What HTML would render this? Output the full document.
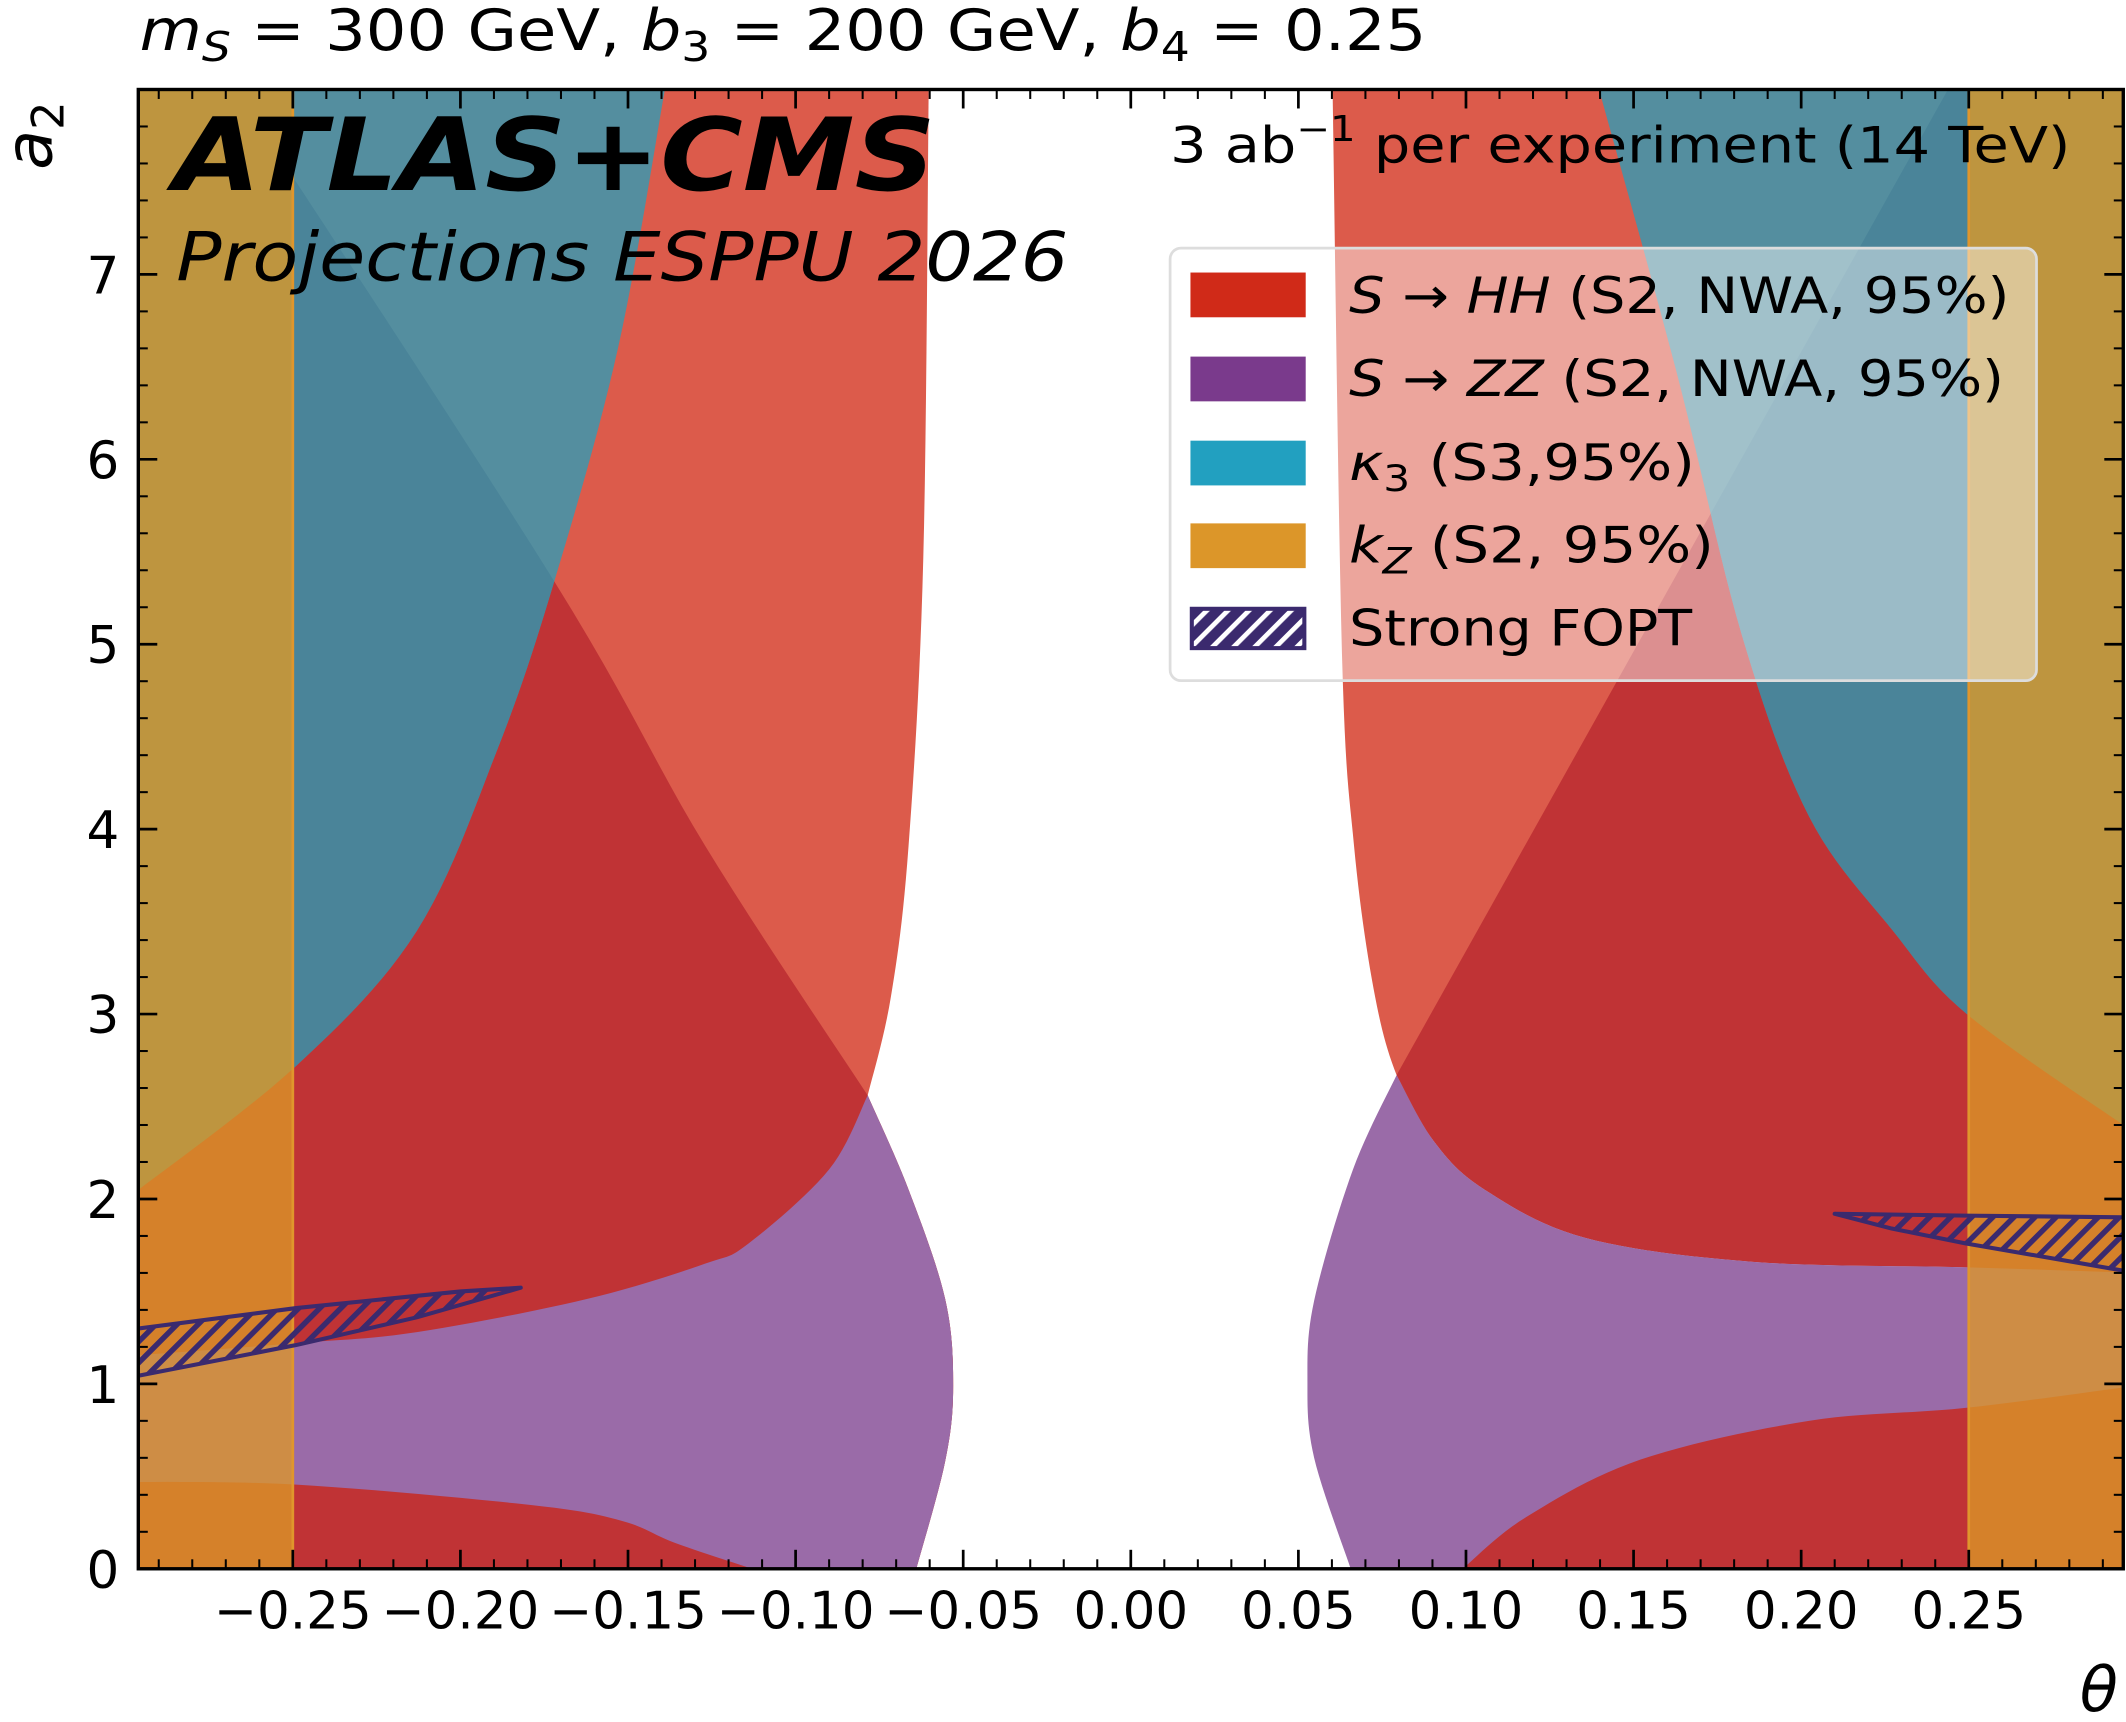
<!DOCTYPE html>
<html><head><meta charset="utf-8">
<style>
html,body{margin:0;padding:0;background:#fff;}
svg{display:block;}
text{font-family:"DejaVu Sans","Liberation Sans",sans-serif;fill:#000;}
</style></head>
<body>
<svg id="chart" width="2126" height="1722" viewBox="0 0 1568 1270" preserveAspectRatio="none" xmlns="http://www.w3.org/2000/svg">
<defs>
<clipPath id="plotclip"><rect x="102" y="66" width="1464" height="1091"/></clipPath>
<pattern id="hatch" patternUnits="userSpaceOnUse" width="11" height="11" patternTransform="rotate(45)">
<rect x="0" y="0" width="4" height="11" fill="#3b2a6e"/>
</pattern>
<pattern id="hatchLegend" patternUnits="userSpaceOnUse" width="11" height="11" patternTransform="rotate(45)">
<rect x="0" y="0" width="11" height="11" fill="#3b2a6e"/>
<rect x="0" y="0" width="3.5" height="11" fill="#ffffff"/>
</pattern>
</defs>
<g id="plot" clip-path="url(#plotclip)"></g>
<g id="axes"></g>

<text x="103" y="37" font-size="42" textLength="949" lengthAdjust="spacingAndGlyphs"><tspan font-style="italic">m</tspan><tspan font-style="italic" font-size="30" dy="8">S</tspan><tspan dy="-8"> = 300 GeV, </tspan><tspan font-style="italic">b</tspan><tspan font-size="30" dy="8">3</tspan><tspan dy="-8"> = 200 GeV, </tspan><tspan font-style="italic">b</tspan><tspan font-size="30" dy="8">4</tspan><tspan dy="-8"> = 0.25</tspan></text>

<text x="128" y="140" font-size="74" font-weight="bold" font-style="italic" textLength="562" lengthAdjust="spacingAndGlyphs">ATLAS+CMS</text>
<text x="130" y="207" font-size="50" font-style="italic" textLength="658" lengthAdjust="spacingAndGlyphs">Projections ESPPU 2026</text>
<text x="863" y="120" font-size="37" textLength="664" lengthAdjust="spacingAndGlyphs">3 ab<tspan font-size="26" dy="-16">−1</tspan><tspan dy="16">   per experiment (14 TeV)</tspan></text>

<g>
<rect x="863" y="183" width="639" height="319" rx="8" fill="#ffffff" fill-opacity="0.45" stroke="#dddddd" stroke-width="2"/>
<g>
<rect x="878" y="201" width="85" height="33" fill="#d02a18"/>
<text x="995" y="231" font-size="37" textLength="487" lengthAdjust="spacingAndGlyphs"><tspan font-style="italic">S</tspan> → <tspan font-style="italic">HH</tspan>   (S2, NWA, 95%)</text></g>
<g>
<rect x="878" y="263" width="85" height="33" fill="#7a3a8c"/>
<text x="995" y="292" font-size="37" textLength="483" lengthAdjust="spacingAndGlyphs"><tspan font-style="italic">S</tspan> → <tspan font-style="italic">ZZ</tspan>   (S2, NWA, 95%)</text></g>
<g>
<rect x="878" y="325" width="85" height="33" fill="#22a0c0"/>
<text x="995" y="354" font-size="37" textLength="255" lengthAdjust="spacingAndGlyphs"><tspan font-style="italic">κ</tspan><tspan font-size="27" dy="8">3</tspan><tspan dy="-8">   (S3,95%)</tspan></text></g>
<g>
<rect x="878" y="386" width="85" height="33" fill="#dc9629"/>
<text x="995" y="415" font-size="37" textLength="269" lengthAdjust="spacingAndGlyphs"><tspan font-style="italic">k</tspan><tspan font-style="italic" font-size="27" dy="8">Z</tspan><tspan dy="-8">   (S2, 95%)</tspan></text></g>
<g>
<rect x="879" y="449" width="83" height="29" fill="url(#hatchLegend)" stroke="#3b2a6e" stroke-width="3"/>
<text x="995" y="476" font-size="37" textLength="253" lengthAdjust="spacingAndGlyphs">Strong FOPT</text></g>
</g>

<text x="1548" y="1262" font-size="46" font-style="italic" text-anchor="middle">θ</text>
<text transform="translate(38,100) rotate(-90)" font-size="48" text-anchor="middle"><tspan font-style="italic">a</tspan><tspan font-size="33" dy="9">2</tspan></text>
</svg>

<script>
// ---- data (theta, a2) boundary curves ----
const leftGap = [[-0.0603,8],[-0.0619,5.47],[-0.0663,3.91],[-0.0716,3.09],[-0.0785,2.56]];
const leftZZRight = [[-0.0785,2.56],[-0.0663,2.05],[-0.0554,1.46],[-0.053,0.99],[-0.0554,0.58],[-0.064,0]];
const leftDiag = [[-0.267,8],[-0.172,5.34],[-0.127,3.91],[-0.0785,2.56]];
const leftKappa = [[-0.139,8],[-0.153,6.6],[-0.172,5.34],[-0.189,4.43],[-0.213,3.45],[-0.249,2.72],[-0.296,2.05],[-0.3,2.0]];
const leftZZTop = [[-0.0785,2.56],[-0.090,2.16],[-0.114,1.76],[-0.127,1.65],[-0.162,1.46],[-0.213,1.28],[-0.249,1.22],[-0.3,1.15]];
const leftHHLow = [[-0.3,0.47],[-0.249,0.455],[-0.179,0.345],[-0.152,0.26],[-0.136,0.14],[-0.113,0]];
const leftFOPT = [[-0.3,1.29],[-0.249,1.41],[-0.2,1.5],[-0.182,1.52],[-0.213,1.36],[-0.249,1.21],[-0.3,1.03]];

const rightGap = [[0.0602,8],[0.063,4.95],[0.0666,3.91],[0.0724,3.14],[0.0793,2.67],[0.0905,2.31],[0.1056,2.05],[0.1355,1.79],[0.1857,1.66],[0.25,1.63],[0.3,1.6]];
const rightDiag = [[0.2438,8],[0.0793,2.67]];
const rightKappa = [[0.1397,8],[0.1627,6.48],[0.1823,5.05],[0.2023,4.07],[0.2274,3.45],[0.2494,3.0],[0.2953,2.41],[0.3,2.37]];
const rightZZLeft = [[0.0793,2.67],[0.0663,2.16],[0.0547,1.45],[0.0527,1.01],[0.0547,0.6],[0.0656,0]];
const rightHHLow = [[0.099,0],[0.118,0.28],[0.152,0.59],[0.2023,0.80],[0.249,0.87],[0.3,0.99]];
const rightFOPT = [[0.210,1.92],[0.249,1.91],[0.3,1.90],[0.3,1.60],[0.249,1.76],[0.227,1.84]];

const kzEdge = [-0.25, 0.25];
const xTicks = [-0.25,-0.20,-0.15,-0.10,-0.05,0.00,0.05,0.10,0.15,0.20,0.25];
const xTickLabels = ["−0.25","−0.20","−0.15","−0.10","−0.05","0.00","0.05","0.10","0.15","0.20","0.25"];
const yTicks = [0,1,2,3,4,5,6,7];
const yTickLabels = ["0","1","2","3","4","5","6","7"];

// ---- scales ----
const X0=102, X1=1566, Y0=66, Y1=1157;
const TMIN=-0.2961, TMAX=0.2961, AMIN=0, AMAX=8;
function xs(t){return X0+(t-TMIN)/(TMAX-TMIN)*(X1-X0);}
function ys(a){return Y1-(a-AMIN)/(AMAX-AMIN)*(Y1-Y0);}
// rendering-only smoothing (Catmull-Rom) in data space
function smooth(pts){
  if(pts.length < 3) return pts.slice();
  const out=[];
  for(let i=0;i < pts.length-1;i++){
    const p0=pts[Math.max(0,i-1)],p1=pts[i],p2=pts[i+1],p3=pts[Math.min(pts.length-1,i+2)];
    for(let k=0;k < 12;k++){
      const t=k/12,t2=t*t,t3=t2*t;
      const f=(a,b,c,d)=>0.5*((2*b)+(-a+c)*t+(2*a-5*b+4*c-d)*t2+(-a+3*b-3*c+d)*t3);
      out.push([f(p0[0],p1[0],p2[0],p3[0]),f(p0[1],p1[1],p2[1],p3[1])]);
    }
  }
  out.push(pts[pts.length-1]);
  return out;
}
function pathOf(pts){return pts.map((p,i)=>(i?'L':'M')+xs(p[0]).toFixed(2)+','+ys(p[1]).toFixed(2)).join('')+'Z';}

const NS='http://www.w3.org/2000/svg';
const plot=document.getElementById('plot');
const defs=document.querySelector('defs');
function addPath(pts,fill,name,clip){
  const p=document.createElementNS(NS,'path');
  p.setAttribute('d',pathOf(pts));
  p.setAttribute('fill',fill);
  if(clip) p.setAttribute('clip-path','url(#'+clip+')');
  
  
  plot.appendChild(p);
  return p;
}
function addClip(id,pts){
  const c=document.createElementNS(NS,'clipPath');
  c.setAttribute('id',id);
  const p=document.createElementNS(NS,'path');
  p.setAttribute('d',pathOf(pts));
  c.appendChild(p);
  defs.appendChild(c);
}

const sLG=smooth(leftGap), sLZR=smooth(leftZZRight), sLD=smooth(leftDiag), sLK=smooth(leftKappa);
const sLZT=smooth(leftZZTop), sLHL=smooth(leftHHLow);
const sRG=smooth(rightGap), sRK=smooth(rightKappa), sRZL=smooth(rightZZLeft), sRHL=smooth(rightHHLow);
const rgTail=smooth(rightGap.slice(4));

// polygons
const lightRedL=[[-0.3,8],...sLG,...sLZR.slice(1),[-0.3,0]];
const darkRedL=[...sLD,...sLZR.slice(1),[-0.3,0],[-0.3,8]];
const blueL=[[-0.3,8],...sLK];
const purpleL=[[-0.3,0],...sLZT.slice().reverse(),...sLZR.slice(1)];
const lowRedL=[...sLHL,[-0.3,0]];
const lightRedR=[...sRG,[0.3,8]];
const darkRedR=[...rightDiag,...rgTail.slice(1),[0.3,8]];
const blueR=[...sRK,[0.3,8]];
const purpleR=[...sRZL,[0.3,0],...rgTail.slice(1).reverse()];
const lowRedR=[...sRHL,[0.3,0]];

addClip('clipDarkL',darkRedL);
addClip('clipDarkR',darkRedR);
addClip('clipBlue',blueL);
addClip('clipBlueR',blueR);
addClip('clipPurpleL',purpleL);
addClip('clipPurpleR',purpleR);
addClip('clipLowL',lowRedL);
addClip('clipLowR',lowRedR);

addPath(lightRedL,'#dc5b4b','hh-region-left');
addPath(darkRedL,'#c03335','hh-overlap-left');
addPath(blueL,'#548e9f','kappa3-region-left');
addPath(blueL,'#4a8499','kappa3-overlap-left','clipDarkL');
addPath(purpleL,'#9a6ba8','zz-region-left');
addPath(lowRedL,'#c03335','hh-low-region-left');

addPath(lightRedR,'#dc5b4b','hh-region-right');
addPath(darkRedR,'#c03335','hh-overlap-right');
addPath(blueR,'#548e9f','kappa3-region-right');
addPath(blueR,'#4a8499','kappa3-overlap-right','clipDarkR');
addPath(purpleR,'#9a6ba8','zz-region-right');
addPath(lowRedR,'#c03335','hh-low-region-right');

// kZ strips
const stripL=[[-0.3,0],[kzEdge[0],0],[kzEdge[0],8],[-0.3,8]];
const stripR=[[kzEdge[1],0],[0.3,0],[0.3,8],[kzEdge[1],8]];
addPath(stripL,'#d5812a','kz-region-left');
addPath(stripL,'#be953f','kz-kappa3-left','clipBlue');
addPath(stripL,'#ce8d45','kz-zz-left','clipPurpleL');
addPath(stripL,'#d5812a','kz-hh-low-left','clipLowL');
addPath(stripR,'#d5812a','kz-region-right');
addPath(stripR,'#be953f','kz-kappa3-right','clipBlueR');
addPath(stripR,'#ce8d45','kz-zz-right','clipPurpleR');
addPath(stripR,'#d5812a','kz-hh-low-right','clipLowR');
for(const e of kzEdge){
  const l=document.createElementNS(NS,'line');
  l.setAttribute('x1',xs(e));l.setAttribute('x2',xs(e));l.setAttribute('y1',Y0);l.setAttribute('y2',Y1);
  l.setAttribute('stroke','#e0962c');l.setAttribute('stroke-width','2');
  
  
  plot.appendChild(l);
}
// FOPT hatches
for(const [pts,nm] of [[leftFOPT,'fopt-region-left'],[rightFOPT,'fopt-region-right']]){
  const p=addPath(pts,'url(#hatch)',nm);
  p.setAttribute('stroke','#3b2a6e');p.setAttribute('stroke-width','3');p.setAttribute('stroke-linejoin','round');
}

// ---- axes ----
const axes=document.getElementById('axes');
function line(x1,y1,x2,y2,w,name){
  const l=document.createElementNS(NS,'line');
  l.setAttribute('x1',x1);l.setAttribute('y1',y1);l.setAttribute('x2',x2);l.setAttribute('y2',y2);
  l.setAttribute('stroke','#000');l.setAttribute('stroke-width',w);
  
  
  axes.appendChild(l);
}
for(let i=-29;i <= 29;i++){
  const t=i/100; const major=(i%5===0);
  const L=major?14:7, w=major?2:1.5;
  line(xs(t),Y1,xs(t),Y1-L,w,'x-tick');
  line(xs(t),Y0,xs(t),Y0+L,w,'x-tick-top');
}
for(let i=0;i <= 40;i++){
  const a=i/5; const major=(i%5===0);
  const L=major?14:7, w=major?2:1.5;
  line(X0,ys(a),X0+L,ys(a),w,'y-tick');
  line(X1,ys(a),X1-L,ys(a),w,'y-tick-right');
}
xTicks.forEach((t,i)=>{
  const tx=document.createElementNS(NS,'text');
  tx.setAttribute('x',xs(t));tx.setAttribute('y',1201);
  tx.setAttribute('font-size','38');tx.setAttribute('text-anchor','middle');
  tx.textContent=xTickLabels[i];
  
  
  axes.appendChild(tx);
});
yTicks.forEach((a,i)=>{
  const tx=document.createElementNS(NS,'text');
  tx.setAttribute('x',88);tx.setAttribute('y',ys(a)+14);
  tx.setAttribute('font-size','38');tx.setAttribute('text-anchor','end');
  tx.textContent=yTickLabels[i];
  
  
  axes.appendChild(tx);
});
const fr=document.createElementNS(NS,'rect');
fr.setAttribute('x',X0);fr.setAttribute('y',Y0);fr.setAttribute('width',X1-X0);fr.setAttribute('height',Y1-Y0);
fr.setAttribute('fill','none');fr.setAttribute('stroke','#000');fr.setAttribute('stroke-width','2.5');


axes.appendChild(fr);
</script>
</body></html>
